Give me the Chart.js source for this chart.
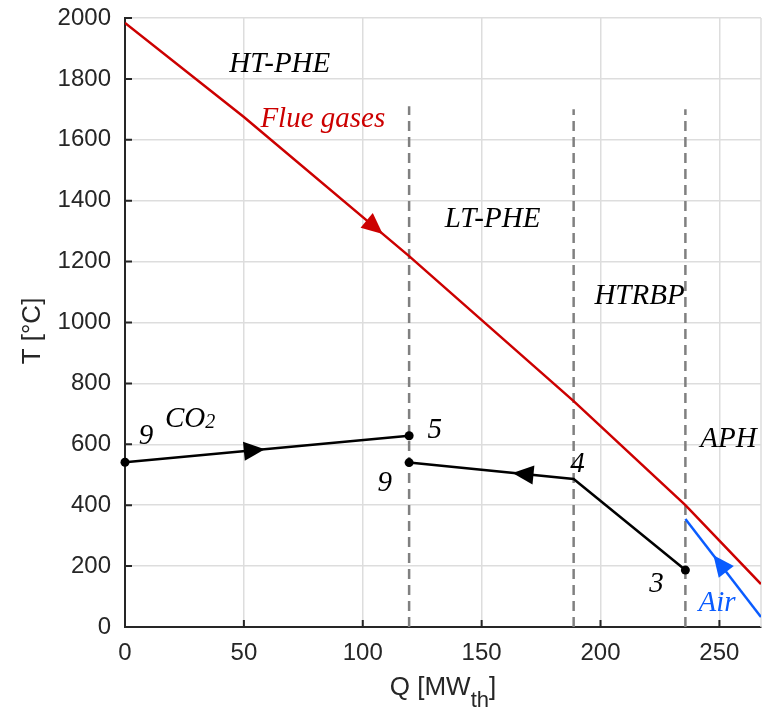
<!DOCTYPE html>
<html><head><meta charset="utf-8">
<script src="https://cdn.jsdelivr.net/npm/chart.js@4/dist/chart.umd.min.js"></script>
<style>html,body{margin:0;padding:0;background:#fff}canvas{display:block}</style>
</head><body>
<canvas id="c" width="767" height="709"></canvas>
<script>
// ---- data (Q in MW_th, T in °C) ----
const qFlue = [0, 50, 119.5, 188.7, 235.7, 267.5];
const tFlue = [1984, 1675, 1218, 742, 400, 141];
const qCO2a = [0, 119.5];
const tCO2a = [541, 628];
const qCO2b = [119.5, 188.7, 235.7];
const tCO2b = [540, 486, 187];
const qAir  = [235.7, 267.5];
const tAir  = [355, 33];
const qDiv  = [119.5, 188.7, 235.7];
const tDivTop = [1710, 1700, 1700];
const xTicks = [0, 50, 100, 150, 200, 250];
const yTicks = [0, 200, 400, 600, 800, 1000, 1200, 1400, 1600, 1800, 2000];
const qMax = 267.5;

const pts = (xs, ys) => xs.map((x, i) => ({x, y: ys[i]}));

const datasets = [
  {label:'Flue gases', data: pts(qFlue, tFlue), borderColor:'#cc0000', borderWidth:2.5, pointRadius:0},
  {label:'CO2 a', data: pts(qCO2a, tCO2a), borderColor:'#000', backgroundColor:'#000', borderWidth:2.5, pointRadius:[4.5,4.5], pointBorderWidth:0, clip:false},
  {label:'CO2 b', data: pts(qCO2b, tCO2b), borderColor:'#000', backgroundColor:'#000', borderWidth:2.5, pointRadius:[4.5,0,4.5], pointBorderWidth:0, clip:false},
  {label:'Air', data: pts(qAir, tAir), borderColor:'#0a5cff', borderWidth:2.5, pointRadius:0},
];
qDiv.forEach((q, i) => datasets.push({label:'div'+i, data:[{x:q,y:0},{x:q,y:tDivTop[i]}], borderColor:'#808080', borderWidth:2.5, borderDash:[10,6], pointRadius:0}));

// arrows: dataset index, x of tip, direction (+1 toward larger Q)
const arrows = [
  {ds:0, x:108.4, dir:1, color:'#cc0000'},
  {ds:1, x:58.8, dir:1, color:'#000'},
  {ds:2, x:163, dir:-1, color:'#000'},
  {ds:3, x:247.5, dir:-1, color:'#0a5cff'},
];
// text annotations (data coords, baseline)
const notes = [
  {t:'HT-PHE', x:65.1, y:1823, c:'#000'},
  {t:'Flue gases', x:83.2, y:1642, c:'#cc0000'},
  {t:'LT-PHE', x:154.6, y:1314, c:'#000'},
  {t:'HTRBP', x:216.4, y:1061, c:'#000'},
  {t:'APH', x:253.8, y:591, c:'#000'},
  {t:'Air', x:249, y:52, c:'#0a5cff'},
  {t:'3', x:223.5, y:115, c:'#000'},
  {t:'4', x:190.3, y:509, c:'#000'},
  {t:'9', x:109.2, y:447, c:'#000'},
  {t:'5', x:130.3, y:621, c:'#000'},
  {t:'9', x:8.8, y:601, c:'#000'},
];

const serif = '"Liberation Serif", "Times New Roman", serif';
const sans = '"Liberation Sans", Arial, Helvetica, sans-serif';

const deco = {
  id:'deco',
  beforeDatasetsDraw(chart){
    const {ctx, chartArea:a} = chart;
    ctx.save();
    ctx.strokeStyle='#dddddd'; ctx.lineWidth=1.5;
    ctx.beginPath(); ctx.moveTo(a.right, a.top); ctx.lineTo(a.right, a.bottom); ctx.stroke();
    ctx.restore();
  },
  afterDatasetsDraw(chart){
    const {ctx, scales:{x, y}} = chart;
    ctx.save();
    // arrows
    arrows.forEach(ar => {
      const d = chart.data.datasets[ar.ds].data;
      let k = 0;
      while (k < d.length-2 && d[k+1].x < ar.x) k++;
      const p0 = d[k], p1 = d[k+1];
      const f = (ar.x - p0.x)/(p1.x - p0.x);
      const ty = p0.y + f*(p1.y - p0.y);
      const px = x.getPixelForValue(ar.x), py = y.getPixelForValue(ty);
      let dx = x.getPixelForValue(p1.x) - x.getPixelForValue(p0.x);
      let dy = y.getPixelForValue(p1.y) - y.getPixelForValue(p0.y);
      const n = Math.hypot(dx, dy); dx = dx/n*ar.dir; dy = dy/n*ar.dir;
      const L = 21, W = 9.5;
      const bx = px - dx*L, by = py - dy*L;
      ctx.fillStyle = ar.color;
      ctx.beginPath();
      ctx.moveTo(px, py);
      ctx.lineTo(bx - dy*W, by + dx*W);
      ctx.lineTo(bx + dy*W, by - dx*W);
      ctx.closePath(); ctx.fill();
    });
    // annotations
    ctx.font = 'italic 29px ' + serif;
    ctx.textAlign = 'center'; ctx.textBaseline = 'alphabetic';
    notes.forEach(n => {
      ctx.fillStyle = n.c;
      ctx.fillText(n.t, x.getPixelForValue(n.x), y.getPixelForValue(n.y));
    });
    // CO2 with subscript
    ctx.fillStyle = '#000'; ctx.textAlign = 'left';
    const cx = x.getPixelForValue(16.8), cy = y.getPixelForValue(657);
    ctx.font = 'italic 29px ' + serif;
    ctx.fillText('CO', cx, cy);
    const w = ctx.measureText('CO').width;
    ctx.font = 'italic 20px ' + serif;
    ctx.fillText('2', cx + w, cy + 1);
    ctx.restore();
  },
  afterDraw(chart){
    const {ctx, chartArea:a, scales:{x, y}} = chart;
    ctx.save();
    // inward ticks
    ctx.strokeStyle = '#262626'; ctx.lineWidth = 2;
    ctx.beginPath();
    yTicks.forEach(v => { const p = y.getPixelForValue(v); ctx.moveTo(a.left, p); ctx.lineTo(a.left+7, p); });
    xTicks.forEach(v => { const p = x.getPixelForValue(v); ctx.moveTo(p, a.bottom); ctx.lineTo(p, a.bottom-7); });
    ctx.stroke();
    // axis titles
    ctx.fillStyle = '#262626';
    ctx.textBaseline = 'alphabetic';
    ctx.font = '26px ' + sans;
    const s1 = 'Q [MW', s3 = ']';
    const w1 = ctx.measureText(s1).width, w3 = ctx.measureText(s3).width;
    ctx.font = '22px ' + sans;
    const w2 = ctx.measureText('th').width;
    let sx = (a.left + a.right)/2 - (w1+w2+w3)/2;
    const by = 695;
    ctx.textAlign = 'left';
    ctx.font = '26px ' + sans; ctx.fillText(s1, sx, by);
    ctx.font = '22px ' + sans; ctx.fillText('th', sx + w1, by + 12);
    ctx.font = '26px ' + sans; ctx.fillText(s3, sx + w1 + w2, by);
    ctx.translate(40, 331); ctx.rotate(-Math.PI/2);
    ctx.textAlign = 'center';
    ctx.fillText('T [°C]', 0, 0);
    ctx.restore();
  }
};

new Chart(document.getElementById('c'), {
  type:'line',
  data:{datasets},
  options:{
    responsive:false, animation:false, devicePixelRatio:1,
    layout:{padding:{top:18, right:6, left:0, bottom:0}},
    plugins:{legend:{display:false}, tooltip:{enabled:false}},
    elements:{line:{tension:0}},
    scales:{
      x:{type:'linear', min:0, max:qMax,
        afterBuildTicks(s){ s.ticks = xTicks.map(v=>({value:v})); },
        afterFit(s){ s.height = 82; s.paddingLeft = 0; s.paddingRight = 0; },
        grid:{color:'#dddddd', lineWidth:1.5, drawTicks:false},
        border:{color:'#262626', width:2},
        ticks:{color:'#262626', font:{family:sans, size:24}, padding:12, maxRotation:0, callback:v=>String(v)}
      },
      y:{type:'linear', min:0, max:2000,
        afterBuildTicks(s){ s.ticks = yTicks.map(v=>({value:v})); },
        afterFit(s){ s.width = 125; s.paddingTop = 0; s.paddingBottom = 0; },
        grid:{color:'#dddddd', lineWidth:1.5, drawTicks:false},
        border:{color:'#262626', width:2},
        ticks:{color:'#262626', font:{family:sans, size:24}, padding:14, callback:v=>String(v)}
      }
    }
  },
  plugins:[deco]
});
</script>
</body></html>
